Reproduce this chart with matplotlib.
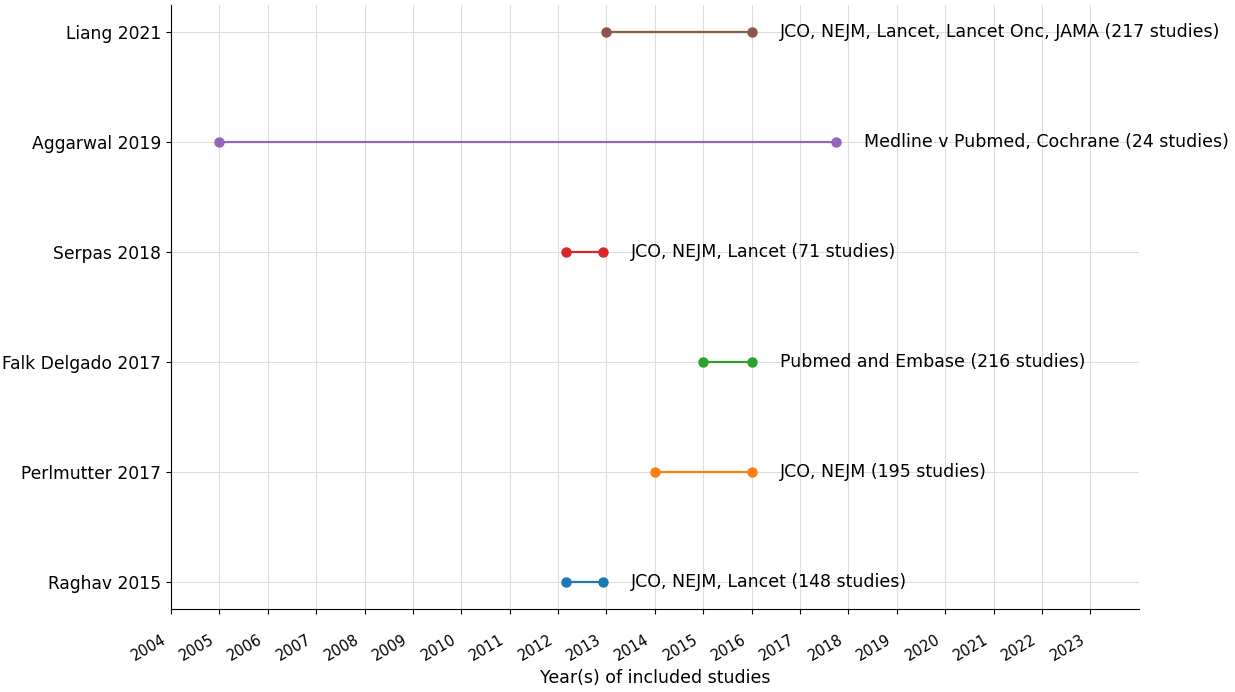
import numpy as np
import matplotlib
matplotlib.use("Agg")
import matplotlib.pyplot as plt
from matplotlib.transforms import ScaledTranslation

# studies, bottom to top
studies = ["Raghav 2015", "Perlmutter 2017", "Falk Delgado 2017",
           "Serpas 2018", "Aggarwal 2019", "Liang 2021"]
start_year = [2012.17, 2014.0, 2015.0, 2012.17, 2005.0, 2013.0]
end_year = [2012.92, 2016.0, 2016.0, 2012.92, 2017.75, 2016.0]
sources = ["JCO, NEJM, Lancet (148 studies)",
           "JCO, NEJM (195 studies)",
           "Pubmed and Embase (216 studies)",
           "JCO, NEJM, Lancet (71 studies)",
           "Medline v Pubmed, Cochrane (24 studies)",
           "JCO, NEJM, Lancet, Lancet Onc, JAMA (217 studies)"]
years = list(range(2004, 2024))

fig, ax = plt.subplots(figsize=(12.35, 6.92), dpi=100)
fig.subplots_adjust(left=0.1385, right=0.922, top=0.993, bottom=0.12)

for i, name in enumerate(studies):
    ax.plot([start_year[i], end_year[i]], [i, i], "-o", color=f"C{i}",
            markersize=6.5, linewidth=1.6, zorder=3)
    ax.text(end_year[i] + 0.58, i, sources[i], va="center", ha="left",
            fontsize=12.5)

ax.set_yticks(range(len(studies)))
ax.set_yticklabels(studies, fontsize=12.3)
ax.set_xticks(years)
ax.set_xticklabels([str(y) for y in years], rotation=30, ha="right",
                   fontsize=10.5)
ax.tick_params(axis="x", pad=13)
shift = ScaledTranslation(-2 / 72, 0, fig.dpi_scale_trans)
for lbl in ax.get_xticklabels():
    lbl.set_transform(lbl.get_transform() + shift)
ax.set_xlim(2004, 2024)
ax.set_xlabel("Year(s) of included studies", fontsize=12.5, labelpad=4)
ax.grid(True, color="#dddddd", linewidth=0.8)
ax.set_axisbelow(True)
ax.spines["top"].set_visible(False)
ax.spines["right"].set_visible(False)

fig.savefig("out.png", dpi=100)
